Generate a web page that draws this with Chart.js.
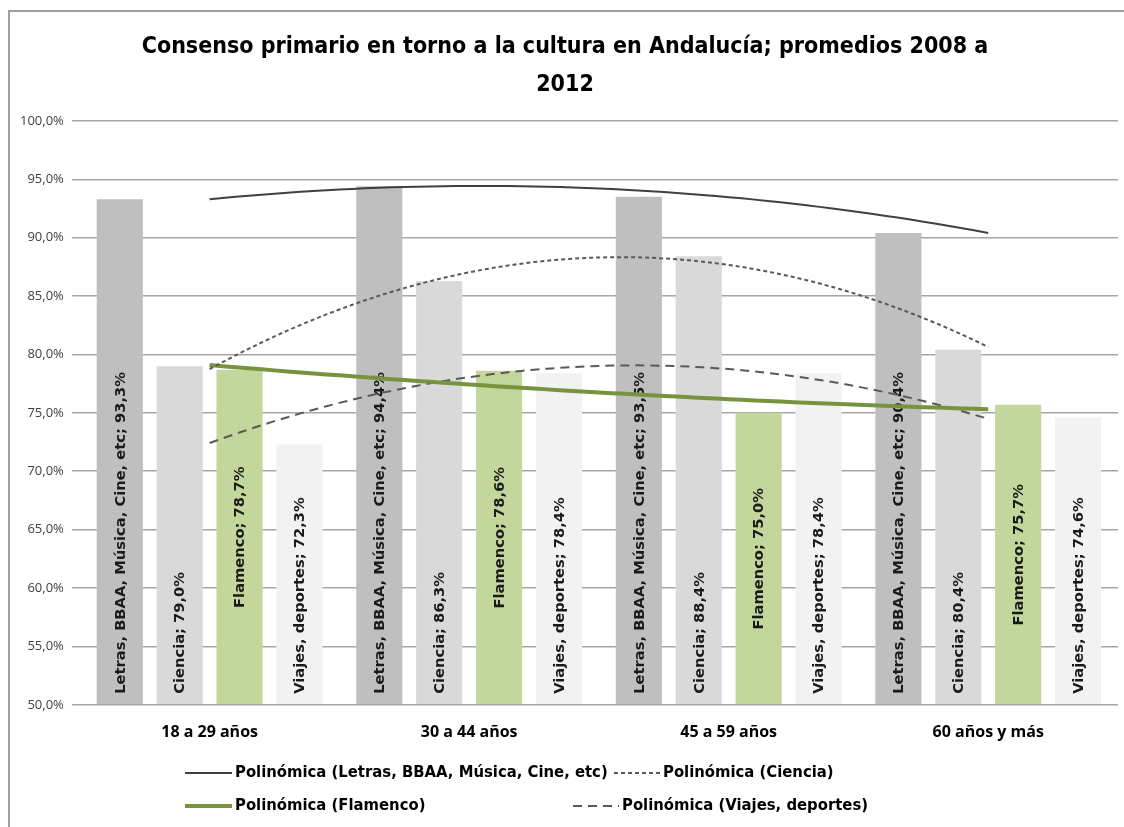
<!DOCTYPE html>
<html lang="es">
<head>
<meta charset="utf-8">
<title>Consenso primario en torno a la cultura en Andalucía</title>
<script src="https://cdn.jsdelivr.net/npm/chart.js@4.4.0/dist/chart.umd.min.js"></script>
<style>
  html, body { margin: 0; padding: 0; background: #fff; }
  #wrap { position: relative; width: 1124px; height: 827px; }
</style>
</head>
<body>
<div id="wrap"><canvas id="chart" width="1124" height="827"></canvas></div>
<script>
// Grupos de edad y series (promedios 2008-2012, %)
const ageGroups = ['18 a 29 años', '30 a 44 años', '45 a 59 años', '60 años y más'];
const seriesNames = ['Letras, BBAA, Música, Cine, etc', 'Ciencia', 'Flamenco', 'Viajes, deportes'];
const letras = [93.3, 94.4, 93.5, 90.4];
const ciencia = [79.0, 86.3, 88.4, 80.4];
const flamenco = [78.7, 78.6, 75.0, 75.7];
const viajes = [72.3, 78.4, 78.4, 74.6];
const yMin = 50;
const yMax = 100;
const yStep = 5;

const titleLines = ['Consenso primario en torno a la cultura en Andalucía; promedios 2008 a', '2012'];

const fmt = v => v.toFixed(1).replace('.', ',') + '%';
const toPoints = values => values.map((y, i) => ({ x: i, y }));

// Línea de tendencia polinómica de orden 2 (mínimos cuadrados), como en Excel
function polyTrend(values) {
    const n = values.length, mid = (n - 1) / 2;
    let s2 = 0, s4 = 0, sy = 0, sty = 0, st2y = 0;
    values.forEach((y, i) => {
        const t = i - mid;
        s2 += t * t; s4 += t ** 4; sy += y; sty += t * y; st2y += t * t * y;
    });
    const b = sty / s2;
    const c = (n * st2y - s2 * sy) / (n * s4 - s2 * s2);
    const a = (sy - c * s2) / n;
    const pts = [];
    const steps = 60;
    for (let k = 0; k <= steps; k++) {
        const x = k * (n - 1) / steps;
        const t = x - mid;
        pts.push({ x, y: a + b * t + c * t * t });
    }
    return pts;
}

const barStyle = { categoryPercentage: 0.923, barPercentage: 0.77, order: 2, borderWidth: 0, base: yMin };
const trendStyle = { type: 'line', pointRadius: 0, order: 1, fill: false };

const datasets = [
    { label: seriesNames[0], data: toPoints(letras), backgroundColor: '#bfbfbf', labelPos: 'base', ...barStyle },
    { label: seriesNames[1], data: toPoints(ciencia), backgroundColor: '#d9d9d9', labelPos: 'base', ...barStyle },
    { label: seriesNames[2], data: toPoints(flamenco), backgroundColor: '#c3d69b', labelPos: 'center', ...barStyle },
    { label: seriesNames[3], data: toPoints(viajes), backgroundColor: '#f2f2f2', labelPos: 'base', ...barStyle },
    { label: 'Polinómica (' + seriesNames[0] + ')', data: polyTrend(letras),
      borderColor: '#404040', borderWidth: 2, ...trendStyle },
    { label: 'Polinómica (' + seriesNames[1] + ')', data: polyTrend(ciencia),
      borderColor: '#595959', borderWidth: 2, borderDash: [4, 3], ...trendStyle },
    { label: 'Polinómica (' + seriesNames[2] + ')', data: polyTrend(flamenco),
      borderColor: '#77933c', borderWidth: 4, ...trendStyle },
    { label: 'Polinómica (' + seriesNames[3] + ')', data: polyTrend(viajes),
      borderColor: '#595959', borderWidth: 2, borderDash: [9, 6], ...trendStyle }
];

// Marco gris alrededor del gráfico
const frame = {
    id: 'frame',
    beforeDraw(chart) {
        const ctx = chart.ctx;
        ctx.save();
        ctx.fillStyle = '#fff';
        ctx.fillRect(0, 0, chart.width, chart.height);
        ctx.strokeStyle = '#a0a0a0';
        ctx.lineWidth = 2;
        ctx.strokeRect(9, 11, chart.width + 20, chart.height + 20);
        ctx.restore();
    }
};

// Etiquetas verticales "serie; valor" dentro de cada barra
const barLabels = {
    id: 'barLabels',
    afterDatasetDraw(chart, args) {
        const ds = chart.data.datasets[args.index];
        if (ds.type === 'line') return;
        const ctx = chart.ctx;
        const base = chart.scales.y.getPixelForValue(yMin);
        ctx.save();
        ctx.font = 'bold 14.7px "DejaVu Sans", sans-serif';
        ctx.fillStyle = '#1a1a1a';
        ctx.textBaseline = 'middle';
        args.meta.data.forEach((bar, i) => {
            const text = ds.label + '; ' + fmt(ds.data[i].y);
            ctx.save();
            if (ds.labelPos === 'center') {
                ctx.translate(bar.x + 1, (bar.y + base) / 2);
                ctx.textAlign = 'center';
            } else {
                ctx.translate(bar.x + 1, base - 11);
                ctx.textAlign = 'left';
            }
            ctx.rotate(-Math.PI / 2);
            ctx.fillText(text, 0, 0);
            ctx.restore();
        });
        ctx.restore();
    }
};

// Leyenda de las líneas de tendencia, en dos filas
const legendLayout = [
    { ds: 4, x: 185, y: 773, w: 47 },
    { ds: 5, x: 614, y: 773, w: 46 },
    { ds: 6, x: 185, y: 806, w: 47 },
    { ds: 7, x: 573, y: 806, w: 46 }
];
const trendLegend = {
    id: 'trendLegend',
    afterDraw(chart) {
        const ctx = chart.ctx;
        ctx.save();
        legendLayout.forEach(item => {
            const ds = chart.data.datasets[item.ds];
            ctx.strokeStyle = ds.borderColor;
            ctx.lineWidth = ds.borderWidth;
            ctx.setLineDash(ds.borderDash || []);
            ctx.beginPath();
            ctx.moveTo(item.x, item.y);
            ctx.lineTo(item.x + item.w, item.y);
            ctx.stroke();
            ctx.setLineDash([]);
            ctx.font = 'bold 16.5px "Liberation Sans Narrow", "DejaVu Sans Condensed", sans-serif';
            ctx.fillStyle = '#000';
            ctx.textBaseline = 'middle';
            ctx.textAlign = 'left';
            ctx.fillText(ds.label, item.x + item.w + 3, item.y);
        });
        ctx.restore();
    }
};

new Chart(document.getElementById('chart'), {
    type: 'bar',
    data: { datasets },
    plugins: [frame, barLabels, trendLegend],
    options: {
        responsive: false,
        animation: false,
        layout: { padding: { left: 12, right: 6, top: 0, bottom: 75 } },
        plugins: {
            legend: { display: false },
            tooltip: { enabled: false },
            title: {
                display: true,
                text: titleLines,
                color: '#000',
                font: { family: '"Liberation Sans Narrow", "DejaVu Sans Condensed", sans-serif', size: 23, weight: 'bold', lineHeight: 1.65 },
                padding: { top: 28, bottom: 17 }
            }
        },
        scales: {
            x: {
                type: 'linear',
                min: -0.5,
                max: ageGroups.length - 0.5,
                offset: false,
                grid: { display: false, offset: false },
                border: { display: false },
                afterBuildTicks: scale => { scale.ticks = ageGroups.map((_, i) => ({ value: i })); },
                ticks: {
                    autoSkip: false,
                    maxRotation: 0,
                    color: '#000',
                    padding: 10,
                    font: { family: '"Open Sans"', size: 16, weight: 'bold' },
                    callback: v => ageGroups[v]
                }
            },
            y: {
                min: yMin,
                max: yMax,
                border: { display: false },
                grid: { color: '#a6a6a6', lineWidth: 1.5, tickLength: 8 },
                ticks: {
                    stepSize: yStep,
                    color: '#404040',
                    padding: 8,
                    font: { family: '"Open Sans"', size: 13 },
                    callback: v => fmt(v)
                }
            }
        }
    }
});
</script>
</body>
</html>
